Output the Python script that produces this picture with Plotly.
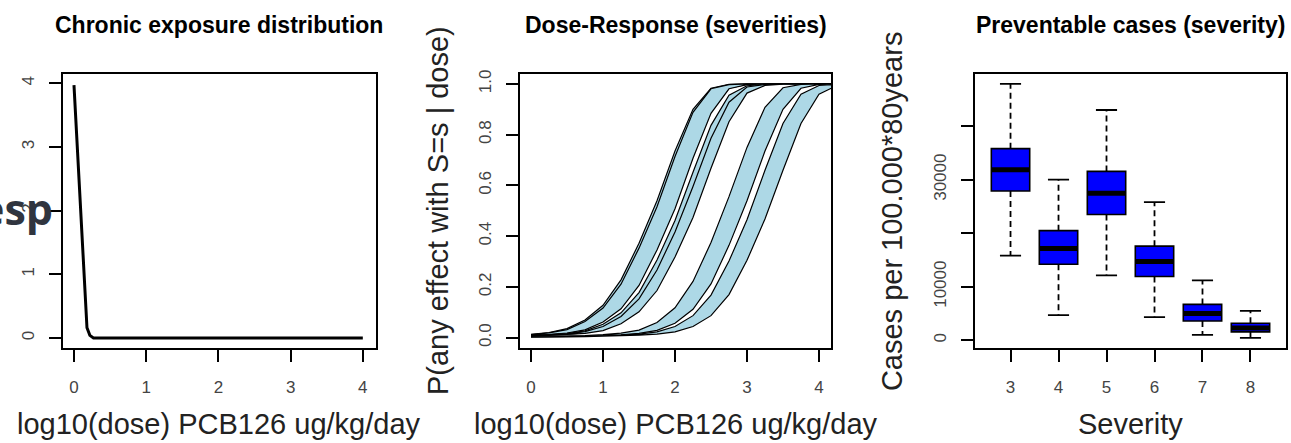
import plotly.graph_objects as go

W, H = 1291, 443

# ---------------- Panel 1: chronic exposure distribution ----------------
EXP_X = [0.0, 0.09, 0.18, 0.22, 0.27, 0.5, 1.0, 1.5, 2.0, 2.5, 3.0, 3.5, 4.0]
EXP_Y = [3.97, 2.08, 0.16, 0.04, 0.0, 0.0, 0.0, 0.0, 0.0, 0.0, 0.0, 0.0, 0.0]

# ---------------- Panel 2: dose-response bands ----------------
DR_X = [0.0, 0.25, 0.5, 0.75, 1.0, 1.25, 1.5, 1.75, 2.0, 2.25,
        2.5, 2.75, 3.0, 3.25, 3.5, 3.75, 4.0, 4.25]

band1_lo = [0.013, 0.020, 0.036, 0.070, 0.128, 0.228, 0.372, 0.540, 0.736, 0.900, 0.983, 0.998, 1, 1, 1, 1, 1, 1]
band1_hi = [0.0095, 0.013, 0.020, 0.035, 0.068, 0.124, 0.222, 0.366, 0.532, 0.729, 0.896, 0.983, 0.998, 1, 1, 1, 1, 1]
band2_lo = [0.0125, 0.019, 0.032, 0.064, 0.117, 0.211, 0.353, 0.516, 0.714, 0.888, 0.981, 0.997, 1, 1, 1, 1, 1, 1]
band2_hi = [0.009, 0.012, 0.0185, 0.031, 0.062, 0.114, 0.206, 0.346, 0.508, 0.707, 0.884, 0.981, 0.997, 1, 1, 1, 1, 1]
band3_lo = [0.0085, 0.0113, 0.0166, 0.027, 0.053, 0.098, 0.178, 0.306, 0.462, 0.652, 0.837, 0.956, 0.993, 0.999, 1, 1, 1, 1]
band3_hi = [0.0074, 0.0096, 0.0132, 0.0204, 0.036, 0.070, 0.128, 0.228, 0.372, 0.540, 0.736, 0.900, 0.983, 0.998, 1, 1, 1, 1]
band4_lo = [0.008, 0.0104, 0.0149, 0.0238, 0.0444, 0.084, 0.153, 0.267, 0.417, 0.596, 0.786, 0.928, 0.988, 0.998, 1, 1, 1, 1]
band4_hi = [0.0067, 0.0087, 0.0115, 0.017, 0.028, 0.055, 0.102, 0.186, 0.318, 0.474, 0.668, 0.851, 0.964, 0.994, 0.9995, 1, 1, 1]
band5_lo = [0.0040, 0.0050, 0.0066, 0.0086, 0.0120, 0.0180, 0.030, 0.060, 0.118, 0.222, 0.375, 0.556, 0.750, 0.908, 0.985, 0.998, 1, 1]
band5_hi = [0.0030, 0.0038, 0.0048, 0.0064, 0.0084, 0.0112, 0.0170, 0.029, 0.057, 0.112, 0.212, 0.364, 0.540, 0.736, 0.900, 0.983, 0.998, 1]
band6_lo = [0.0027, 0.0034, 0.0043, 0.0058, 0.0076, 0.0100, 0.0145, 0.0230, 0.044, 0.087, 0.168, 0.302, 0.465, 0.660, 0.844, 0.960, 0.994, 0.9994]
band6_hi = [0.0022, 0.0027, 0.0034, 0.0043, 0.0058, 0.0076, 0.0100, 0.0145, 0.0230, 0.044, 0.087, 0.170, 0.305, 0.468, 0.660, 0.844, 0.960, 0.994]

BANDS = [(band1_lo, band1_hi), (band2_lo, band2_hi), (band3_lo, band3_hi),
         (band4_lo, band4_hi), (band5_lo, band5_hi), (band6_lo, band6_hi)]

# ---------------- Panel 3: preventable cases boxplots ----------------
SEV = [3, 4, 5, 6, 7, 8]
Q1 = [27900, 14200, 23500, 11910, 3600, 1570]
MED = [31850, 17150, 27460, 14690, 5000, 2280]
Q3 = [35800, 20480, 31550, 17580, 6700, 3170]
WLO = [15820, 4690, 12120, 4315, 1000, 450]
WHI = [47890, 30000, 43020, 25800, 11200, 5500]

FONT = "Liberation Sans, Arial, sans-serif"
BOX_W = 0.8
CAP_W = 0.44

fig = go.Figure()

# panel 1
fig.add_trace(go.Scatter(x=EXP_X, y=EXP_Y, mode="lines",
                         line=dict(color="black", width=3),
                         xaxis="x", yaxis="y", showlegend=False))

# panel 2
for lo, hi in BANDS:
    fig.add_trace(go.Scatter(x=DR_X + DR_X[::-1], y=lo + hi[::-1],
                             mode="lines", fill="toself", fillcolor="#ADD8E6",
                             line=dict(color="black", width=1.2),
                             xaxis="x2", yaxis="y2", showlegend=False))

# panel 3 boxes
fig.add_trace(go.Box(x=SEV, q1=Q1, median=MED, q3=Q3,
                     lowerfence=Q1, upperfence=Q3, width=BOX_W,
                     whiskerwidth=0, fillcolor="#0000FF",
                     line=dict(color="black", width=1.6),
                     boxpoints=False, xaxis="x3", yaxis="y3", showlegend=False))

wx, wy = [], []
for s, q1, q3, lo, hi in zip(SEV, Q1, Q3, WLO, WHI):
    wx += [s, s, None, s, s, None]
    wy += [q3, hi, None, q1, lo, None]
fig.add_trace(go.Scatter(x=wx, y=wy, mode="lines",
                         line=dict(color="black", width=1.8, dash="6px,4px"),
                         xaxis="x3", yaxis="y3", showlegend=False))
cx, cy = [], []
for s, lo, hi in zip(SEV, WLO, WHI):
    cx += [s - CAP_W / 2, s + CAP_W / 2, None, s - CAP_W / 2, s + CAP_W / 2, None]
    cy += [hi, hi, None, lo, lo, None]
fig.add_trace(go.Scatter(x=cx, y=cy, mode="lines",
                         line=dict(color="black", width=1.8),
                         xaxis="x3", yaxis="y3", showlegend=False))
mx, my = [], []
for s, m in zip(SEV, MED):
    mx += [s - BOX_W / 2, s + BOX_W / 2, None]
    my += [m, m, None]
fig.add_trace(go.Scatter(x=mx, y=my, mode="lines",
                         line=dict(color="black", width=5),
                         xaxis="x3", yaxis="y3", showlegend=False))

# ---------------- layout ----------------
top_px, bot_px = 70.7, 347.0
ydom = [(H - bot_px) / H, (H - top_px) / H]
panels = [(63.0, 375.6), (520.0, 831.0), (975.0, 1286.0)]

def ax_common():
    return dict(showline=True, mirror=True, linecolor="black", linewidth=1.5,
                ticks="outside", ticklen=12, tickwidth=1.5, tickcolor="black",
                showgrid=False, zeroline=False,
                tickfont=dict(family=FONT, size=17, color="#444444"))

xa1 = ax_common(); xa1.update(domain=[panels[0][0] / W, panels[0][1] / W], range=[-0.152, 4.177],
                             tickvals=[0, 1, 2, 3, 4], anchor="y", ticklabelstandoff=11)
ya1 = ax_common(); ya1.update(domain=ydom, range=[-0.156, 4.145], tickvals=[0, 1, 2, 3, 4],
                             tickangle=-90, anchor="x", ticklabelstandoff=8)
xa2 = ax_common(); xa2.update(domain=[panels[1][0] / W, panels[1][1] / W], range=[-0.153, 4.167],
                             tickvals=[0, 1, 2, 3, 4], anchor="y2", ticklabelstandoff=11)
ya2 = ax_common(); ya2.update(domain=ydom, range=[-0.040, 1.039],
                             tickvals=[0, 0.2, 0.4, 0.6, 0.8, 1.0],
                             ticktext=["0.0", "0.2", "0.4", "0.6", "0.8", "1.0"],
                             tickangle=-90, anchor="x2", ticklabelstandoff=8)
xa3 = ax_common(); xa3.update(domain=[panels[2][0] / W, panels[2][1] / W], range=[2.26, 8.74],
                             tickvals=SEV, ticktext=[str(s) for s in SEV], anchor="y3",
                             ticklabelstandoff=11)
ya3 = ax_common(); ya3.update(domain=ydom, range=[-1426, 49740],
                             tickvals=[0, 10000, 20000, 30000, 40000],
                             ticktext=["0", "10000", "", "30000", ""],
                             tickangle=-90, anchor="x3", ticklabelstandoff=8)

def px_x(p):
    return p / W

def px_y(p):
    return (H - p) / H

annotations = []
titles = ["Chronic exposure distribution", "Dose-Response (severities)", "Preventable cases (severity)"]
xlabels = ["log10(dose) PCB126 ug/kg/day", "log10(dose) PCB126 ug/kg/day", "Severity"]
for (l, r), t, xl in zip(panels, titles, xlabels):
    c = (l + r) / 2
    annotations.append(dict(text=t, x=px_x(c), y=px_y(21), xref="paper", yref="paper",
                            xanchor="center", yanchor="middle", showarrow=False,
                            font=dict(family=FONT, size=23, color="black", weight="bold")))
    annotations.append(dict(text=xl, x=px_x(c), y=px_y(424), xref="paper", yref="paper",
                            xanchor="center", yanchor="middle", showarrow=False,
                            font=dict(family=FONT, size=29, color="#222222")))

ylabels = [(438.0, "P(any effect with S=s | dose)"), (892.0, "Cases per 100.000*80years")]
for xc, t in ylabels:
    annotations.append(dict(text=t, x=px_x(xc), y=px_y(209), xref="paper", yref="paper",
                            xanchor="center", yanchor="middle", textangle=-90, showarrow=False,
                            font=dict(family=FONT, size=29, color="#222222")))

annotations.append(dict(text="esp", x=px_x(55), y=px_y(206), xref="paper", yref="paper",
                        xanchor="right", yanchor="middle", showarrow=False,
                        font=dict(family="Open Sans, sans-serif", size=43, color="#30353F",
                                  weight="bold")))

fig.update_layout(width=W, height=H, margin=dict(l=0, r=0, t=0, b=0),
                  paper_bgcolor="white", plot_bgcolor="white", showlegend=False,
                  xaxis=xa1, yaxis=ya1, xaxis2=xa2, yaxis2=ya2, xaxis3=xa3, yaxis3=ya3,
                  annotations=annotations)

fig.write_html("out.html")
